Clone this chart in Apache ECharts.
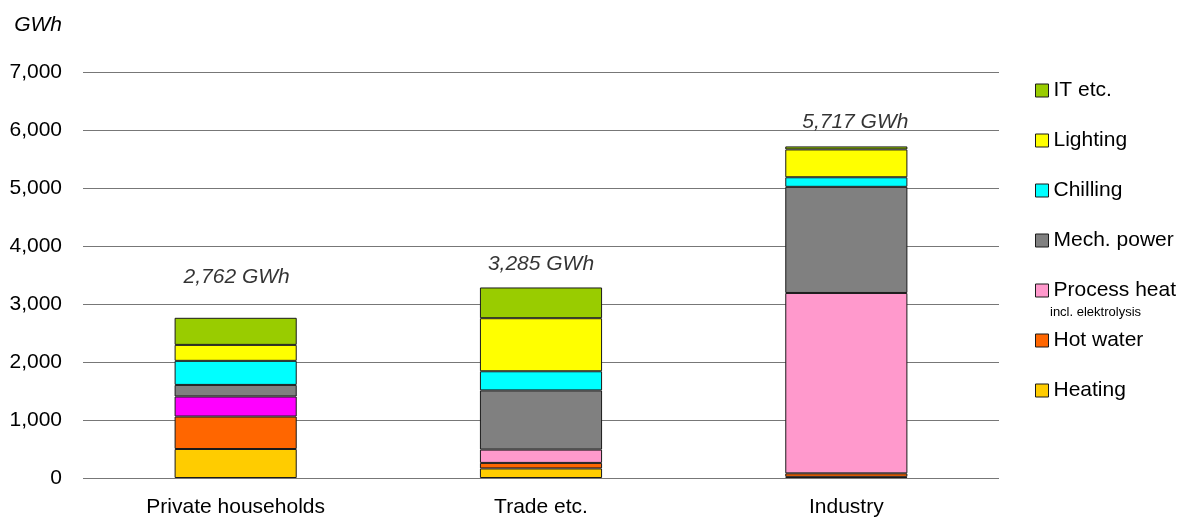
<!DOCTYPE html>
<html>
<head>
<meta charset="utf-8">
<script src="https://cdn.jsdelivr.net/npm/echarts@6/dist/echarts.min.js"></script>
<style>
  html, body { margin: 0; padding: 0; background: #fff; }
  #chart { width: 1184px; height: 520px; }
</style>
</head>
<body>
<div id="chart"></div>
<script>
// Electricity use by sector and application (GWh)
const categories = ['Private households', 'Trade etc.', 'Industry'];

const heating     = [500, 165, 20];
const hotWater    = [560, 95, 60];
const processHeat = [345, 230, 3110];
const mechPower   = [200, 1020, 1830];
const chilling    = [415, 330, 165];
const lighting    = [275, 915, 480];
const itEtc       = [467, 530, 52];

const totals      = [2762, 3285, 5717];
const totalLabels = ['2,762 GWh', '3,285 GWh', '5,717 GWh'];
const labelShift  = [[1, -41], [0, -23], [9, -24]];

const yTicks = { min: 0, max: 7000, interval: 1000 };

const FONT = '"Liberation Sans", Arial, sans-serif';

const seriesDefs = [
  { name: 'Heating',      data: heating,     color: '#FFCC00' },
  { name: 'Hot water',    data: hotWater,    color: '#FF6600' },
  { name: 'Process heat', data: processHeat, color: '#FF99CC' },
  { name: 'Mech. power',  data: mechPower,   color: '#808080' },
  { name: 'Chilling',     data: chilling,    color: '#00FFFF' },
  { name: 'Lighting',     data: lighting,    color: '#FFFF00' },
  { name: 'IT etc.',      data: itEtc,       color: '#99CC00' }
];

const barSeries = seriesDefs.map(function (s) {
  let data = s.data.slice();
  if (s.name === 'Process heat') {
    // households' process heat (cooking) is shown in magenta
    data = data.map(function (v, i) {
      return i === 0 ? { value: v, itemStyle: { color: '#FF00FF' } } : v;
    });
  }
  return {
    name: s.name,
    type: 'bar',
    stack: 'use',
    barWidth: '40%',
    data: data,
    itemStyle: { color: s.color, borderColor: '#1a1a1a', borderWidth: 1 },
    emphasis: { disabled: true }
  };
});

const totalSeries = {
  name: 'Total',
  type: 'scatter',
  symbolSize: 0,
  silent: true,
  itemStyle: { color: '#000' },
  data: totals.map(function (v, i) {
    return {
      value: v,
      label: {
        show: true,
        position: 'inside',
        offset: labelShift[i],
        formatter: totalLabels[i],
        fontFamily: FONT,
        fontSize: 21,
        fontStyle: 'italic',
        color: '#000',
        textBorderWidth: 0
      }
    };
  })
};

const chart = echarts.init(document.getElementById('chart'), null, { renderer: 'canvas' });

chart.setOption({
  animation: false,
  backgroundColor: '#fff',
  grid: { left: 83, right: 185, top: 72, bottom: 42, containLabel: false },
  xAxis: {
    type: 'category',
    data: categories,
    axisTick: { show: false },
    axisLine: { show: false },
    axisLabel: { fontFamily: FONT, fontSize: 21, color: '#000', margin: 19 }
  },
  yAxis: {
    type: 'value',
    min: yTicks.min,
    max: yTicks.max,
    interval: yTicks.interval,
    name: 'GWh',
    nameLocation: 'end',
    nameGap: 36,
    nameTextStyle: {
      fontFamily: FONT, fontSize: 21, fontStyle: 'italic', color: '#000',
      align: 'right', padding: [0, 21, 0, 0]
    },
    axisLine: { show: false },
    axisTick: { show: false },
    axisLabel: {
      fontFamily: FONT, fontSize: 21, color: '#000', margin: 21,
      formatter: function (v) { return v.toLocaleString('en-US'); }
    },
    splitLine: { lineStyle: { color: '#777777', width: 1 } }
  },
  legend: {
    orient: 'vertical',
    left: 1030,
    top: 75,
    itemWidth: 13,
    itemHeight: 13,
    itemGap: 29,
    icon: 'rect',
    data: ['IT etc.', 'Lighting', 'Chilling', 'Mech. power', 'Process heat', 'Hot water', 'Heating'],
    textStyle: { fontFamily: FONT, fontSize: 21, color: '#000' },
    itemStyle: { borderColor: '#1a1a1a', borderWidth: 1 },
    selectedMode: false
  },
  graphic: [
    {
      type: 'text',
      left: 1050,
      top: 306,
      style: { text: 'incl. elektrolysis', fontFamily: FONT, fontSize: 13, fill: '#000' }
    }
  ],
  series: barSeries.concat([totalSeries])
});
</script>
</body>
</html>
